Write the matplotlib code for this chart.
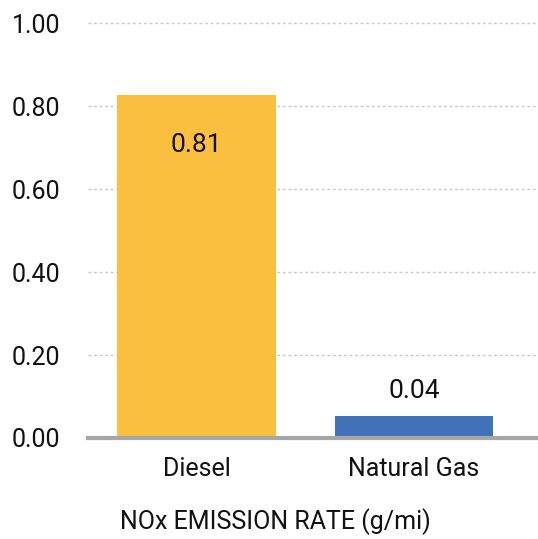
import matplotlib.pyplot as plt

# bar heights, label text as printed
categories = ["Diesel", "Natural Gas"]
values = [0.826, 0.053]
value_labels = ["0.81", "0.04"]
colors = ["#FBBF40", "#3F72B8"]
yticks = [0.0, 0.2, 0.4, 0.6, 0.8, 1.0]

plt.rcParams['font.family'] = ['Roboto', 'DejaVu Sans']

fig = plt.figure(figsize=(5.38, 5.39), dpi=100)
ax = fig.add_axes([0.1636, 0.1874, 0.8364, 0.7696])

x = list(range(len(categories)))
bars = ax.bar(x, values, width=0.73, color=colors, zorder=2)

ax.set_xlim(-0.5, 1.57)
ax.set_ylim(0, 1.0)
ax.set_yticks(yticks)
ax.set_yticklabels([f"{t:.2f}" for t in yticks], fontsize=18, color="#111111")
ax.set_xticks(x)
ax.set_xticklabels(categories, fontsize=18, color="#111111")
ax.tick_params(axis='both', length=0)
ax.tick_params(axis='y', pad=20)
ax.tick_params(axis='x', pad=14)

for s in ["top", "right", "left"]:
    ax.spines[s].set_visible(False)
ax.spines["bottom"].set_color("#a6a6a6")
ax.spines["bottom"].set_linewidth(3)
ax.spines["bottom"].set_zorder(3)

ax.yaxis.grid(True, linestyle=(0, (2, 2)), color="#c8c8c8", linewidth=1)
ax.set_axisbelow(True)
for gl in ax.get_ygridlines():
    gl.set_clip_on(False)

# labels: inside the tall bar, above the short one
ax.text(x[0], values[0] - 0.12, value_labels[0], ha="center", va="center",
        fontsize=19, color="#111111", zorder=4)
ax.text(x[1], values[1] + 0.06, value_labels[1], ha="center", va="center",
        fontsize=19, color="#111111", zorder=4)

fig.text(275 / 538, 1 - 522 / 539, "NOx EMISSION RATE (g/mi)", ha="center",
         va="center", fontsize=18, color="#111111")

fig.savefig("out.png", dpi=100)
